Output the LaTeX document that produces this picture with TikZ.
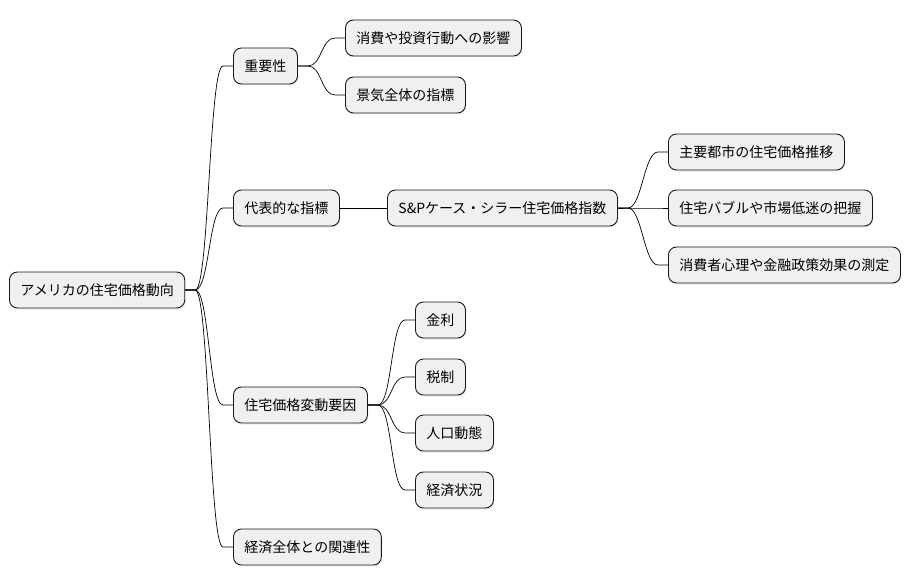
\documentclass[tikz,border=0pt]{standalone}
\usepackage{fontspec}
\setmainfont{Noto Sans CJK JP}
\usetikzlibrary{shadows}
\tikzset{
  topic/.style={draw=black!90, fill=black!6, rounded corners=8pt, line width=0.9pt,
    minimum height=36pt, inner xsep=11pt, anchor=west,
    font=\fontsize{14pt}{16pt}\selectfont,
    drop shadow={shadow xshift=1pt, shadow yshift=-1.5pt, opacity=0.15}},
  branch/.style={to path={-- ++(10pt,0)
    .. controls +(14pt,0) and ([xshift=-24pt]\tikztotarget) .. ([xshift=-10pt]\tikztotarget)
    -- (\tikztotarget)}}
}
\begin{document}
\begin{tikzpicture}[x=1pt, y=-1pt, line width=0.7pt]
    \useasboundingbox (0,0) rectangle (909,583);
    % root and first level
    \node[topic] (root) at (9,290) {アメリカの住宅価格動向};
    \node[topic] (imp) at (233,66) {重要性};
    \node[topic] (ind) at (233,208) {代表的な指標};
    \node[topic] (fac) at (233,405) {住宅価格変動要因};
    \node[topic] (eco) at (233,547) {経済全体との関連性};
    % second level
    \node[topic] (imp1) at (345,38) {消費や投資行動への影響};
    \node[topic] (imp2) at (345,95) {景気全体の指標};
    \node[topic] (cs) at (387,208) {S\&Pケース・シラー住宅価格指数};
    \node[topic] (fac1) at (415,320) {金利};
    \node[topic] (fac2) at (415,377) {税制};
    \node[topic] (fac3) at (415,433) {人口動態};
    \node[topic] (fac4) at (415,490) {経済状況};
    % third level
    \node[topic] (cs1) at (668,152) {主要都市の住宅価格推移};
    \node[topic] (cs2) at (668,208) {住宅バブルや市場低迷の把握};
    \node[topic] (cs3) at (668,265) {消費者心理や金融政策効果の測定};
    % connectors
    \foreach \c in {imp, ind, fac, eco}
        \draw (root.east) to[branch] (\c.west);
    \foreach \c in {imp1, imp2}
        \draw (imp.east) to[branch] (\c.west);
    \draw (ind.east) -- (cs.west);
    \foreach \c in {cs1, cs2, cs3}
        \draw (cs.east) to[branch] (\c.west);
    \foreach \c in {fac1, fac2, fac3, fac4}
        \draw (fac.east) to[branch] (\c.west);
\end{tikzpicture}
\end{document}
